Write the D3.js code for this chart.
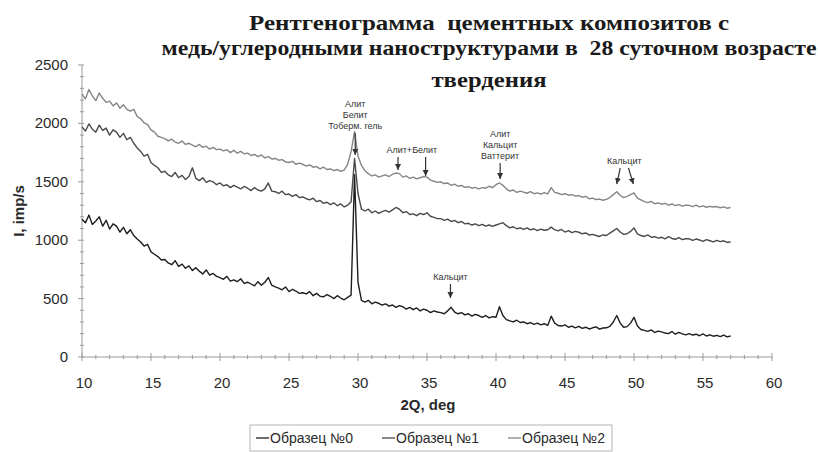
<!DOCTYPE html>
<html lang="ru">
<head>
<meta charset="UTF-8">
<title>Рентгенограмма</title>
<script src="https://cdn.jsdelivr.net/npm/d3@7/dist/d3.min.js"></script>
<style>
  body { margin: 0; background: #fff; }
  svg { display: block; }
</style>
</head>
<body>
<div id="chart"></div>
<script>
// 2θ grid: from 10 to 57 deg, one reading every 0.25 deg
var angleStart = 10, angleStep = 0.25;

// intensities, imp/s
var sample0 = [
  1180, 1150, 1215, 1135, 1165, 1200, 1120, 1170,
  1095, 1140, 1120, 1070, 1110, 1055, 1090, 1040,
  1010, 985, 950, 965, 900, 880, 860, 830,
  835, 805, 790, 825, 775, 795, 760, 780,
  740, 765, 735, 710, 745, 700, 715, 690,
  680, 665, 690, 650, 660, 645, 670, 630,
  640, 625, 610, 645, 615, 640, 680, 615,
  600, 590, 575, 600, 560, 580, 565, 545,
  550, 540, 560, 525, 545, 520, 515, 535,
  520, 500, 525, 505, 490, 510, 530, 1560,
  640, 485, 470, 485, 455, 470, 460, 445,
  455, 435, 445, 425, 440, 430, 410, 425,
  405, 420, 395, 410, 400, 380, 395, 385,
  380, 370, 395, 425, 385, 370, 380, 360,
  370, 350, 365, 355, 340, 355, 335, 345,
  340, 430, 355, 320, 310, 300, 315, 295,
  300, 285, 295, 280, 290, 275, 285, 270,
  350, 290, 270, 265, 275, 255, 265, 250,
  262, 245, 255, 240, 250, 258, 238, 248,
  250, 262, 300, 355, 290, 255, 260, 290,
  340, 265, 235, 228, 220, 232, 210, 222,
  215, 205, 200, 218, 195, 210, 198, 190,
  200, 188, 195, 182, 198, 180, 190, 178,
  185, 175, 188, 172, 180
];
var sample1 = [
  1970, 1935, 1995, 1950, 1925, 1985, 1940, 1960,
  1900, 1945, 1925, 1880, 1915, 1860, 1880, 1830,
  1790, 1760, 1720, 1735, 1665, 1640, 1620, 1580,
  1590, 1560, 1545, 1580, 1535, 1555, 1520, 1545,
  1620, 1530, 1510, 1535, 1495, 1510, 1500, 1475,
  1490, 1465, 1475, 1450, 1470, 1455, 1440, 1460,
  1445, 1425, 1450, 1430, 1420, 1440, 1490, 1420,
  1415, 1400, 1420, 1390, 1395, 1375, 1390, 1365,
  1370, 1355, 1345, 1360, 1330, 1340, 1315, 1325,
  1305, 1320, 1295, 1310, 1285, 1300, 1330, 1700,
  1400, 1265, 1250, 1265, 1235, 1250, 1230, 1245,
  1255, 1240, 1260, 1280, 1265, 1235, 1245, 1220,
  1225, 1210, 1230, 1220, 1235, 1205, 1195, 1185,
  1185, 1170, 1180, 1160, 1170, 1150, 1160, 1140,
  1145, 1130, 1140, 1125, 1135, 1120, 1130, 1118,
  1130, 1140, 1150, 1125, 1105, 1115, 1098, 1105,
  1092, 1105, 1088, 1098, 1082, 1095, 1085, 1090,
  1112, 1090, 1080, 1092, 1070, 1082, 1065, 1075,
  1068, 1055, 1062, 1045, 1050, 1040, 1032, 1045,
  1040, 1060, 1080, 1100, 1070, 1050, 1055, 1075,
  1105, 1055, 1040, 1032, 1045, 1025, 1030, 1018,
  1025, 1012, 1030, 1015, 1008, 1022, 1005, 1012,
  1012, 998, 1010, 1002, 990, 1005, 995, 985,
  998, 988, 995, 982, 985
];
var sample2 = [
  2250, 2210, 2290, 2235, 2195, 2260, 2215, 2180,
  2190, 2150, 2175, 2130, 2160, 2120, 2105, 2120,
  2060, 2040, 2005, 1990, 1945, 1925, 1890, 1880,
  1870, 1850, 1865, 1840, 1830, 1850, 1820, 1830,
  1815, 1800, 1820, 1795, 1805, 1780, 1795, 1775,
  1780, 1765, 1775, 1750, 1770, 1745, 1760, 1740,
  1745, 1725, 1735, 1715, 1730, 1705, 1715, 1695,
  1700, 1685, 1690, 1670, 1665, 1675, 1650, 1660,
  1650, 1635, 1645, 1625, 1630, 1610, 1625, 1605,
  1610, 1595, 1605, 1590, 1600, 1650, 1760, 1930,
  1720, 1640, 1595, 1570, 1550, 1560, 1540, 1550,
  1560, 1545, 1565, 1575, 1570, 1540, 1550, 1530,
  1540, 1525, 1535, 1545, 1540, 1515, 1505, 1495,
  1500, 1485, 1490, 1470, 1480, 1462, 1470, 1452,
  1458, 1445, 1452, 1440, 1450, 1445, 1462, 1450,
  1475, 1490, 1470, 1440, 1420, 1430, 1410, 1420,
  1412, 1402, 1415, 1398, 1405, 1395, 1408, 1396,
  1450, 1410, 1402, 1390, 1398, 1385, 1390, 1378,
  1382, 1368, 1375, 1355, 1360, 1348, 1352, 1342,
  1350, 1365, 1390, 1415, 1385, 1365, 1375, 1390,
  1405, 1360, 1345, 1330, 1322, 1332, 1312, 1320,
  1308, 1315, 1300, 1310, 1296, 1305, 1292, 1300,
  1298, 1288, 1300, 1285, 1294, 1282, 1290, 1284,
  1288, 1278, 1285, 1274, 1280
];

var seriesNames = ["Образец №0", "Образец №1", "Образец №2"];
var xTicks = [10, 15, 20, 25, 30, 35, 40, 45, 50, 55, 60];
var yTicks = [0, 500, 1000, 1500, 2000, 2500];
var titleLines = [
  "Рентгенограмма  цементных композитов с",
  "медь/углеродными наноструктурами в  28 суточном возрасте",
  "твердения"
];

// phase labels: text anchor (deg), arrows as [deg from, imp from, deg to, imp to]
var notes = [
  { deg: 29.8, lines: ["Алит", "Белит", "Тоберм. гель"], arrows: [[29.8, 1918, 29.8, 1730]] },
  { deg: 33.9, lines: ["Алит+Белит"], arrows: [[32.9, 1712, 32.9, 1601], [34.9, 1712, 34.9, 1550]] },
  { deg: 40.3, lines: ["Алит", "Кальцит", "Ваттерит"], arrows: [[40.3, 1661, 40.3, 1524]] },
  { deg: 49.3, lines: ["Кальцит"], arrows: [[49.0, 1618, 48.75, 1481], [49.6, 1618, 49.95, 1481]] },
  { deg: 36.7, lines: ["Кальцит"], arrows: [[36.7, 625, 36.7, 505]] }
];

var W = 818, H = 452;
var colors = ["#1e1e1e", "#4a4a4a", "#858585"];

var svg = d3.select("#chart").append("svg")
    .attr("width", W)
    .attr("height", H)
    .style("font-family", "'Liberation Sans', Arial, sans-serif");

var x = d3.scaleLinear().domain([10, 60]).range([82, 772]);
var y = d3.scaleLinear().domain([0, 2500]).range([357, 65]);

// title (the original font is set wide, so each line is stretched to its width)
var titleWidth = [480, 655, 115];
svg.append("g").selectAll("text")
    .data(titleLines)
    .enter().append("text")
    .attr("x", 489)
    .attr("y", function(d, i) { return [30, 55, 87][i]; })
    .attr("text-anchor", "middle")
    .attr("textLength", function(d, i) { return titleWidth[i]; })
    .attr("lengthAdjust", "spacingAndGlyphs")
    .style("font-family", "'Liberation Serif', 'Times New Roman', serif")
    .style("font-weight", "bold")
    .style("font-size", "22px")
    .style("white-space", "pre")
    .attr("fill", "#1a1a1a")
    .text(function(d) { return d; });

// axes
var axisColor = "#9a9a9a";
var yAxis = svg.append("g").attr("transform", "translate(" + x(10) + ",0)");
yAxis.append("line").attr("y1", y(0)).attr("y2", y(2500)).attr("stroke", axisColor);
yAxis.selectAll("line.minor")
    .data(d3.range(0, 2501, 100))
    .enter().append("line")
    .attr("class", "minor")
    .attr("x1", function(d) { return d % 500 == 0 ? -4 : -2; })
    .attr("x2", 2)
    .attr("y1", y).attr("y2", y)
    .attr("stroke", axisColor);
yAxis.selectAll("text")
    .data(yTicks)
    .enter().append("text")
    .attr("x", -14)
    .attr("y", function(d) { return y(d) + 5; })
    .attr("text-anchor", "end")
    .style("font-size", "15px")
    .attr("fill", "#2a2a2a")
    .text(function(d) { return d; });

var xAxis = svg.append("g").attr("transform", "translate(0," + y(0) + ")");
xAxis.append("line").attr("x1", x(10)).attr("x2", x(60)).attr("stroke", axisColor);
xAxis.selectAll("line.minor")
    .data(d3.range(10, 60.01, 1))
    .enter().append("line")
    .attr("class", "minor")
    .attr("x1", x).attr("x2", x)
    .attr("y1", function(d) { return d % 5 == 0 ? -4 : -2; })
    .attr("y2", function(d) { return d % 5 == 0 ? 4 : 2; })
    .attr("stroke", axisColor);
xAxis.selectAll("text")
    .data(xTicks)
    .enter().append("text")
    .attr("x", function(d) { return x(d) + 2; })
    .attr("y", 31)
    .attr("text-anchor", "middle")
    .style("font-size", "15px")
    .attr("fill", "#2a2a2a")
    .text(function(d) { return d; });

svg.append("text")
    .attr("transform", "translate(24,211) rotate(-90)")
    .attr("text-anchor", "middle")
    .style("font-size", "15px")
    .style("font-weight", "bold")
    .attr("fill", "#2a2a2a")
    .text("I, imp/s");

svg.append("text")
    .attr("x", 428)
    .attr("y", 410)
    .attr("text-anchor", "middle")
    .style("font-size", "15px")
    .style("font-weight", "bold")
    .attr("fill", "#2a2a2a")
    .text("2Q, deg");

// curves
var allSeries = [sample0, sample1, sample2];
var line = d3.line()
    .x(function(d, i) { return x(angleStart + i * angleStep); })
    .y(function(d) { return y(d); });

svg.append("g").selectAll("path")
    .data(allSeries.slice().reverse())
    .enter().append("path")
    .attr("d", line)
    .attr("fill", "none")
    .attr("stroke", function(d, i) { return colors[2 - i]; })
    .attr("stroke-width", 1.4)
    .attr("stroke-linejoin", "round");

// arrows and phase names
svg.append("defs").append("marker")
    .attr("id", "head")
    .attr("viewBox", "0 0 10 10")
    .attr("refX", 10).attr("refY", 5)
    .attr("markerWidth", 6).attr("markerHeight", 7)
    .attr("markerUnits", "userSpaceOnUse")
    .attr("orient", "auto")
    .append("path").attr("d", "M0,0 L10,5 L0,10 z").attr("fill", "#333");

var noteG = svg.append("g");
notes.forEach(function(n) {
    var top = d3.min(n.arrows, function(a) { return y(a[1]); });
    n.lines.forEach(function(t, k) {
        noteG.append("text")
            .attr("x", x(n.deg))
            .attr("y", top - 4 - (n.lines.length - 1 - k) * 11)
            .attr("text-anchor", "middle")
            .style("font-size", "9px")
            .attr("fill", "#333")
            .text(t);
    });
    n.arrows.forEach(function(a) {
        noteG.append("line")
            .attr("x1", x(a[0])).attr("y1", y(a[1]))
            .attr("x2", x(a[2])).attr("y2", y(a[3]))
            .attr("stroke", "#333")
            .attr("stroke-width", 1.2)
            .attr("marker-end", "url(#head)");
    });
});

// legend
var lg = svg.append("g").attr("transform", "translate(250,425)");
lg.append("rect").attr("width", 362).attr("height", 26)
    .attr("fill", "#fff").attr("stroke", "#b5b5b5");
var legendX = [6, 132, 258];
seriesNames.forEach(function(name, i) {
    lg.append("line")
        .attr("x1", legendX[i]).attr("x2", legendX[i] + 13)
        .attr("y1", 13).attr("y2", 13)
        .attr("stroke", colors[i]).attr("stroke-width", 1.3);
    lg.append("text")
        .attr("x", legendX[i] + 14)
        .attr("y", 18)
        .style("font-size", "14px")
        .attr("fill", "#2a2a2a")
        .text(name);
});
</script>
</body>
</html>
